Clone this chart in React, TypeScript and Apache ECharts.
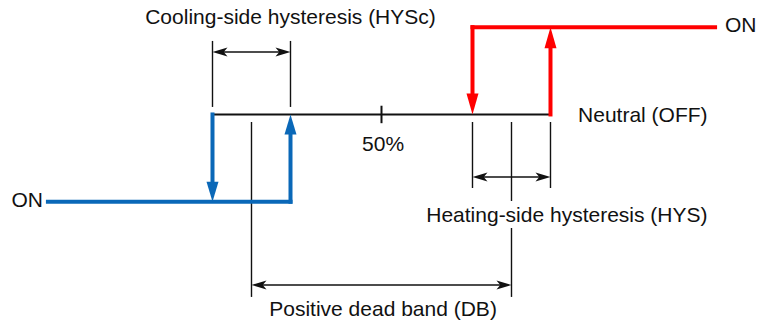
import React, { useEffect, useRef } from "react";
import * as echarts from "echarts";

// Horizontal axis: manipulated variable (%), vertical axis: output state
// (-1 = cooling ON, 0 = neutral/OFF, 1 = heating ON)
const xRange = [35.327, 64.558];
const yRange = [-2.4, 1.311];

// Step traces: [x1, y1, x2, y2, arrowAtEnd]
const coolingSegments = [
  [37.17, -1, 46.5, -1, 0],
  [46.5, -1, 46.5, 0, 1],
  [43.5, 0, 43.5, -1, 1],
];
const heatingSegments = [
  [62.83, 1, 53.5, 1, 0],
  [53.5, 1, 53.5, 0, 1],
  [56.5, 0, 56.5, 1, 1],
];
const neutralSegments = [
  [43.5, 0, 56.5, 0, 0],
  [50, 0.1, 50, -0.1, 0],
];
// Dimension lines: [x1, y1, x2, y2, arrows (0 none, 2 both ends)]
const dimensionSegments = [
  [43.5, 0.842, 43.5, 0.086, 0],
  [46.5, 0.842, 46.5, 0.086, 0],
  [43.5, 0.716, 46.5, 0.716, 2],
  [53.5, -0.086, 53.5, -0.842, 0],
  [56.5, -0.086, 56.5, -0.842, 0],
  [53.5, -0.716, 56.5, -0.716, 2],
  [45, -0.086, 45, -2.09, 0],
  [55, -0.086, 55, -2.09, 0],
  [45, -1.953, 55, -1.953, 2],
];

const labelTexts = [
  "Cooling-side hysteresis (HYSc)",
  "ON",
  "Neutral (OFF)",
  "ON",
  "50%",
  "Heating-side hysteresis (HYS)",
  "Positive dead band (DB)",
];
const labelX = [46.5, 63.21, 57.56, 36.98, 50.06, 57.13, 50.06];
const labelY = [1.117, 1.025, 0.0, -0.974, -0.338, -1.145, -2.217];
const labelAligns = ["center", "left", "left", "right", "center", "center", "center"];
const labelBackground = [false, false, false, false, false, true, false];

type Pt = [number, number];

function head(tip: Pt, from: Pt, len: number, wid: number, notch: number): Pt[] {
  const dx = tip[0] - from[0];
  const dy = tip[1] - from[1];
  const L = Math.sqrt(dx * dx + dy * dy) || 1;
  const ux = dx / L;
  const uy = dy / L;
  const nx = -uy;
  const ny = ux;
  const bx = tip[0] - ux * len;
  const by = tip[1] - uy * len;
  const pts: Pt[] = [tip, [bx + (nx * wid) / 2, by + (ny * wid) / 2]];
  if (notch > 0) {
    pts.push([tip[0] - ux * len * notch, tip[1] - uy * len * notch]);
  }
  pts.push([bx - (nx * wid) / 2, by - (ny * wid) / 2]);
  return pts;
}

function shorten(p: Pt, toward: Pt, by: number): Pt {
  const dx = toward[0] - p[0];
  const dy = toward[1] - p[1];
  const L = Math.sqrt(dx * dx + dy * dy) || 1;
  return [p[0] + (dx / L) * by, p[1] + (dy / L) * by];
}

function segmentSeries(
  data: number[][],
  color: string,
  width: number,
  cap: string,
  hLen: number,
  hWid: number,
  notch: number
) {
  return {
    type: "custom",
    silent: true,
    data,
    encode: { x: [0, 2], y: [1, 3] },
    renderItem: (params: any, api: any) => {
      const p1 = api.coord([api.value(0), api.value(1)]) as Pt;
      const p2 = api.coord([api.value(2), api.value(3)]) as Pt;
      const mode = api.value(4);
      let a: Pt = p1;
      let b: Pt = p2;
      const children: any[] = [];
      if (mode >= 1) {
        b = shorten(p2, p1, hLen * 0.6);
        children.push({
          type: "polygon",
          shape: { points: head(p2, p1, hLen, hWid, notch) },
          style: { fill: color },
        });
      }
      if (mode >= 2) {
        a = shorten(p1, p2, hLen * 0.6);
        children.push({
          type: "polygon",
          shape: { points: head(p1, p2, hLen, hWid, notch) },
          style: { fill: color },
        });
      }
      children.unshift({
        type: "line",
        shape: { x1: a[0], y1: a[1], x2: b[0], y2: b[1] },
        style: { stroke: color, lineWidth: width, lineCap: cap, fill: null },
      });
      return { type: "group", children };
    },
  };
}

export default function App() {
  const ref = useRef<HTMLDivElement>(null);
  useEffect(() => {
    if (!ref.current) return;
    const chart = echarts.init(ref.current, null, { renderer: "svg" });
    const labelData = labelTexts.map((_, i) => [labelX[i], labelY[i]]);
    chart.setOption({
      animation: false,
      backgroundColor: "#ffffff",
      grid: { left: 0, right: 0, top: 0, bottom: 0 },
      xAxis: { type: "value", min: xRange[0], max: xRange[1], show: false },
      yAxis: { type: "value", min: yRange[0], max: yRange[1], show: false },
      series: [
        segmentSeries(dimensionSegments, "#111111", 1.4, "butt", 15, 9, 0.75),
        segmentSeries(neutralSegments, "#111111", 2, "butt", 0, 0, 0),
        segmentSeries(coolingSegments, "#0a68b8", 4, "square", 20, 12, 0),
        segmentSeries(heatingSegments, "#ff0000", 4, "square", 21, 12, 0),
        {
          type: "custom",
          silent: true,
          data: labelData,
          encode: { x: 0, y: 1 },
          renderItem: (params: any, api: any) => {
            const i = params.dataIndex;
            const p = api.coord([api.value(0), api.value(1)]);
            const style: any = {
              text: labelTexts[i],
              fontSize: 21,
              fontFamily: "'Liberation Sans', Arial, sans-serif",
              fill: "#111111",
              align: labelAligns[i],
              verticalAlign: "middle",
            };
            if (labelBackground[i]) {
              style.backgroundColor = "#ffffff";
              style.padding = [3, 0];
            }
            return { type: "text", x: p[0], y: p[1], style };
          },
        },
      ],
    });
    return () => chart.dispose();
  }, []);
  return (
    <div
      ref={ref}
      style={{ position: "absolute", left: 0, top: 0, width: 760, height: 324 }}
    />
  );
}
